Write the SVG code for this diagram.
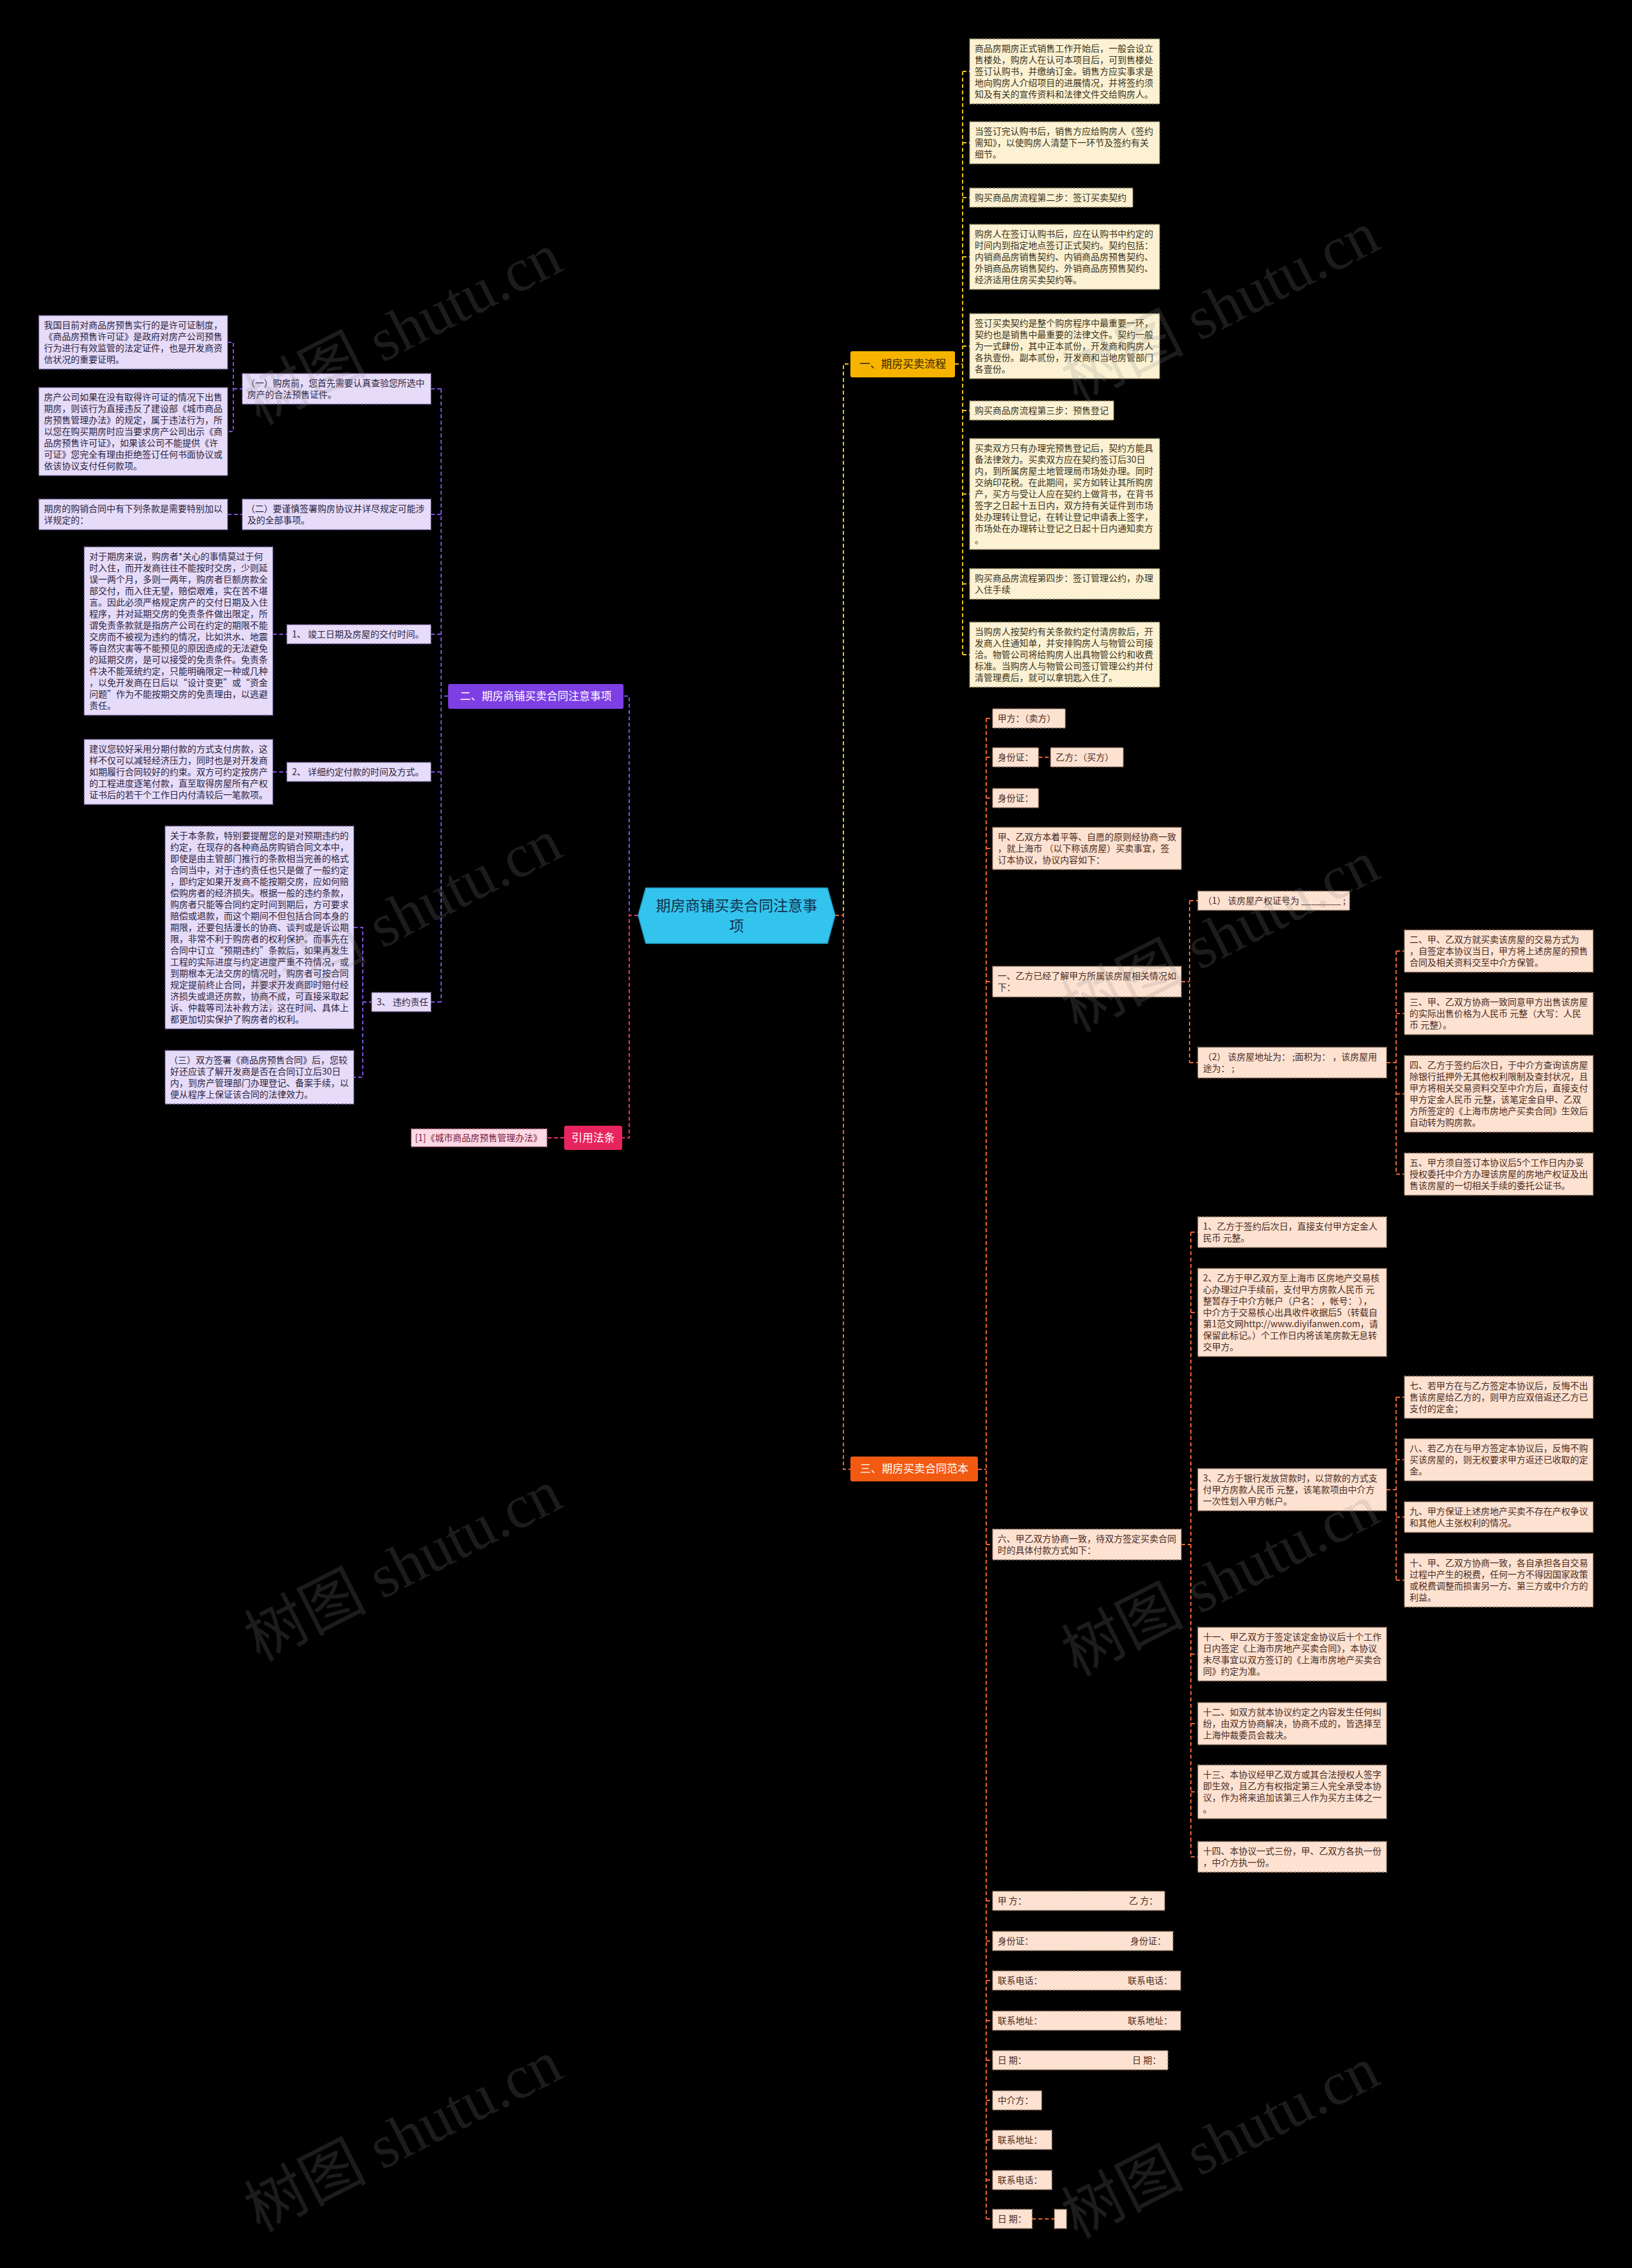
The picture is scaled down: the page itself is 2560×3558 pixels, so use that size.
<svg xmlns="http://www.w3.org/2000/svg" width="2560" height="3558" viewBox="0 0 2560 3558">
<style>
.c{fill:none;stroke-width:2;stroke-dasharray:6 4}
.cy{stroke:#f2c21b}.cp{stroke:#7c4fe0}.ck{stroke:#e8336e}.co{stroke:#ee6430}
.by{fill:#fcf2d3;stroke:#8f8563;stroke-width:1.3;stroke-dasharray:4 2}
.bp{fill:#e6dcf9;stroke:#76649e;stroke-width:1.3;stroke-dasharray:4 2}
.bo{fill:#fde2d2;stroke:#9c7d6a;stroke-width:1.3;stroke-dasharray:4 2}
.bk{fill:#fcd9e4;stroke:#a8647a;stroke-width:1.3;stroke-dasharray:4 2}
text{font-family:"Noto Sans CJK SC","Liberation Sans",sans-serif}
.t{font-size:14px}
.ty{fill:#3a3220}.tp{fill:#2c2440}.to{fill:#4a2c1e}.tk{fill:#7a1a3a}
.lab{font-size:17px;text-anchor:middle}
.wm{font-family:"Liberation Serif","Noto Sans CJK SC",serif;font-size:96px;fill:#8a8a8a;opacity:0.2}
</style>
<rect x="0" y="0" width="2560" height="3558" fill="#000"/>

<g id="connectors">
<path class="c cy" d="M1310,1436 H1323 V571 H1334 M1498,571 H1510 M1510,112 V1027 M1510,112 H1521 M1510,224 H1521 M1510,310 H1521 M1510,403 H1521 M1510,543 H1521 M1510,644 H1521 M1510,775 H1521 M1510,916 H1521 M1510,1027 H1521"/>
<path class="c cp" d="M1001,1436 H987 V1092 H978 M703,1092 H692 M692,610 V1572 M676,610 H692 M676,807 H692 M676,995 H692 M676,1211 H692 M676,1572 H692 M357,537 H366 V677 H357 M366,610 H380 M357,807 H380 M428,995 H450 M428,1211 H450 M555,1455 H569 V1690 H555 M569,1572 H583"/>
<path class="c ck" d="M1001,1436 H987 V1785 H976 M885,1785 H858"/>
<path class="c co" d="M1310,1436 H1323 V2305 H1334 M1534,2305 H1547 M1547,1127 V3481 M1547,1127 H1557 M1547,1188 H1557 M1547,1252 H1557 M1547,1331 H1557 M1547,1540 H1557 M1547,2423 H1557 M1547,2982 H1557 M1547,3045 H1557 M1547,3107 H1557 M1547,3170 H1557 M1547,3232 H1557 M1547,3295 H1557 M1547,3357 H1557 M1547,3420 H1557 M1547,3481 H1557 M1629,1188 H1648 M1853,1540 H1866 M1866,1413 V1667 M1866,1413 H1879 M1866,1667 H1879 M2175,1667 H2190 M2190,1492 V1842 M2190,1492 H2203 M2190,1590 H2203 M2190,1716 H2203 M2190,1842 H2203 M1853,2423 H1868 M1868,1933 V2913 M1868,1933 H1879 M1868,2059 H1879 M1868,2337 H1879 M1868,2595 H1879 M1868,2704 H1879 M1868,2811 H1879 M1868,2913 H1879 M2175,2337 H2190 M2190,2192 V2479 M2190,2192 H2203 M2190,2290 H2203 M2190,2380 H2203 M2190,2479 H2203 M1619,3481 H1654"/>
</g>

<g id="center">
<polygon points="1001,1436 1013,1393 1298,1393 1310,1436 1298,1480 1013,1480" fill="#33c4ee" stroke="#1a9cc4" stroke-width="1.5"/>
<text x="1155.5" y="1429" font-size="23" text-anchor="middle" fill="#14304a">期房商铺买卖合同注意事</text>
<text x="1155.5" y="1461" font-size="23" text-anchor="middle" fill="#14304a">项</text>
</g>

<g id="sec1"><rect x="1334" y="551" width="164" height="41" rx="3" fill="#f6b400"/><text class="lab" x="1416" y="577" fill="#3a2600">一、期房买卖流程</text></g>
<g id="sec2"><rect x="703" y="1073" width="275" height="39" rx="3" fill="#7d3ee4"/><text class="lab" x="840.5" y="1098" fill="#fff">二、期房商铺买卖合同注意事项</text></g>
<g id="sec-ref"><rect x="885" y="1766" width="91" height="38" rx="3" fill="#e8245e"/><text class="lab" x="930.5" y="1791" fill="#fff">引用法条</text></g>
<g id="sec3"><rect x="1334" y="2285" width="200" height="39" rx="3" fill="#f25a12"/><text class="lab" x="1434" y="2310" fill="#fff">三、期房买卖合同范本</text></g>

<g id="ref1"><rect class="bk" x="645" y="1771" width="213" height="28"/><text class="t tk" x="651" y="1790">[1]《城市商品房预售管理办法》</text></g>

<!-- Section 1 -->
<g id="a1"><rect class="by" x="1521" y="61" width="298" height="102"/><text class="t ty"><tspan x="1529" y="81">商品房期房正式销售工作开始后，一般会设立</tspan><tspan x="1529" y="99">售楼处，购房人在认可本项目后，可到售楼处</tspan><tspan x="1529" y="117">签订认购书，并缴纳订金。销售方应实事求是</tspan><tspan x="1529" y="135">地向购房人介绍项目的进展情况，并将签约须</tspan><tspan x="1529" y="153">知及有关的宣传资料和法律文件交给购房人。</tspan></text></g>
<g id="a2"><rect class="by" x="1521" y="191" width="298" height="66"/><text class="t ty"><tspan x="1529" y="211">当签订完认购书后，销售方应给购房人《签约</tspan><tspan x="1529" y="229">需知》，以使购房人清楚下一环节及签约有关</tspan><tspan x="1529" y="247">细节。</tspan></text></g>
<g id="a3"><rect class="by" x="1521" y="295" width="256" height="30"/><text class="t ty" x="1529" y="315">购买商品房流程第二步：签订买卖契约</text></g>
<g id="a4"><rect class="by" x="1521" y="352" width="298" height="102"/><text class="t ty"><tspan x="1529" y="372">购房人在签订认购书后，应在认购书中约定的</tspan><tspan x="1529" y="390">时间内到指定地点签订正式契约。契约包括：</tspan><tspan x="1529" y="408">内销商品房销售契约、内销商品房预售契约、</tspan><tspan x="1529" y="426">外销商品房销售契约、外销商品房预售契约、</tspan><tspan x="1529" y="444">经济适用住房买卖契约等。</tspan></text></g>
<g id="a5"><rect class="by" x="1521" y="492" width="298" height="102"/><text class="t ty"><tspan x="1529" y="512">签订买卖契约是整个购房程序中最重要一环，</tspan><tspan x="1529" y="530">契约也是销售中最重要的法律文件。契约一般</tspan><tspan x="1529" y="548">为一式肆份，其中正本贰份，开发商和购房人</tspan><tspan x="1529" y="566">各执壹份。副本贰份，开发商和当地房管部门</tspan><tspan x="1529" y="584">各壹份。</tspan></text></g>
<g id="b1"><rect class="by" x="1521" y="629" width="226" height="30"/><text class="t ty" x="1529" y="649">购买商品房流程第三步：预售登记</text></g>
<g id="b2"><rect class="by" x="1521" y="688" width="298" height="174"/><text class="t ty"><tspan x="1529" y="708">买卖双方只有办理完预售登记后，契约方能具</tspan><tspan x="1529" y="726">备法律效力。买卖双方应在契约签订后30日</tspan><tspan x="1529" y="744">内，到所属房屋土地管理局市场处办理。同时</tspan><tspan x="1529" y="762">交纳印花税。在此期间，买方如转让其所购房</tspan><tspan x="1529" y="780">产，买方与受让人应在契约上做背书，在背书</tspan><tspan x="1529" y="798">签字之日起十五日内，双方持有关证件到市场</tspan><tspan x="1529" y="816">处办理转让登记，在转让登记申请表上签字，</tspan><tspan x="1529" y="834">市场处在办理转让登记之日起十日内通知卖方</tspan><tspan x="1529" y="852">。</tspan></text></g>
<g id="b3"><rect class="by" x="1521" y="892" width="298" height="48"/><text class="t ty"><tspan x="1529" y="912">购买商品房流程第四步：签订管理公约，办理</tspan><tspan x="1529" y="930">入住手续</tspan></text></g>
<g id="b4"><rect class="by" x="1521" y="976" width="298" height="102"/><text class="t ty"><tspan x="1529" y="996">当购房人按契约有关条款约定付清房款后，开</tspan><tspan x="1529" y="1014">发商入住通知单，并安排购房人与物管公司接</tspan><tspan x="1529" y="1032">洽。物管公司将给购房人出具物管公约和收费</tspan><tspan x="1529" y="1050">标准。当购房人与物管公司签订管理公约并付</tspan><tspan x="1529" y="1068">清管理费后，就可以拿钥匙入住了。</tspan></text></g>

<!-- Section 2 -->
<g id="m1"><rect class="bp" x="380" y="586" width="296" height="48"/><text class="t tp"><tspan x="386" y="606">（一）购房前，您首先需要认真查验您所选中</tspan><tspan x="388" y="624">房产的合法预售证件。</tspan></text></g>
<g id="l1"><rect class="bp" x="61" y="495" width="296" height="84"/><text class="t tp"><tspan x="69" y="515">我国目前对商品房预售实行的是许可证制度，</tspan><tspan x="69" y="533">《商品房预售许可证》是政府对房产公司预售</tspan><tspan x="69" y="551">行为进行有效监管的法定证件，也是开发商资</tspan><tspan x="69" y="569">信状况的重要证明。</tspan></text></g>
<g id="l2"><rect class="bp" x="61" y="608" width="296" height="138"/><text class="t tp"><tspan x="69" y="628">房产公司如果在没有取得许可证的情况下出售</tspan><tspan x="69" y="646">期房，则该行为直接违反了建设部《城市商品</tspan><tspan x="69" y="664">房预售管理办法》的规定，属于违法行为，所</tspan><tspan x="69" y="682">以您在购买期房时应当要求房产公司出示《商</tspan><tspan x="69" y="700">品房预售许可证》，如果该公司不能提供《许</tspan><tspan x="69" y="718">可证》您完全有理由拒绝签订任何书面协议或</tspan><tspan x="69" y="736">依该协议支付任何款项。</tspan></text></g>
<g id="m2"><rect class="bp" x="380" y="783" width="296" height="48"/><text class="t tp"><tspan x="386" y="803">（二）要谨慎签署购房协议并详尽规定可能涉</tspan><tspan x="388" y="821">及的全部事项。</tspan></text></g>
<g id="l3"><rect class="bp" x="61" y="783" width="296" height="48"/><text class="t tp"><tspan x="69" y="803">期房的购销合同中有下列条款是需要特别加以</tspan><tspan x="69" y="821">详规定的：</tspan></text></g>
<g id="n1"><rect class="bp" x="450" y="980" width="226" height="30"/><text class="t tp" x="458" y="1000">1、 竣工日期及房屋的交付时间。</text></g>
<g id="l4"><rect class="bp" x="132" y="858" width="296" height="264"/><text class="t tp"><tspan x="140" y="878">对于期房来说，购房者*关心的事情莫过于何</tspan><tspan x="140" y="896">时入住，而开发商往往不能按时交房，少则延</tspan><tspan x="140" y="914">误一两个月，多则一两年，购房者巨额房款全</tspan><tspan x="140" y="932">部交付，而入住无望，赔偿艰难，实在苦不堪</tspan><tspan x="140" y="950">言。因此必须严格规定房产的交付日期及入住</tspan><tspan x="140" y="968">程序，并对延期交房的免责条件做出限定，所</tspan><tspan x="140" y="986">谓免责条款就是指房产公司在约定的期限不能</tspan><tspan x="140" y="1004">交房而不被视为违约的情况，比如洪水、地震</tspan><tspan x="140" y="1022">等自然灾害等不能预见的原因造成的无法避免</tspan><tspan x="140" y="1040">的延期交房，是可以接受的免责条件。免责条</tspan><tspan x="140" y="1058">件决不能笼统约定，只能明确限定一种或几种</tspan><tspan x="140" y="1076">，以免开发商在日后以“设计变更”或“资金</tspan><tspan x="140" y="1094">问题”作为不能按期交房的免责理由，以逃避</tspan><tspan x="140" y="1112">责任。</tspan></text></g>
<g id="n2"><rect class="bp" x="450" y="1196" width="226" height="30"/><text class="t tp" x="458" y="1216">2、 详细约定付款的时间及方式。</text></g>
<g id="l5"><rect class="bp" x="132" y="1160" width="296" height="102"/><text class="t tp"><tspan x="140" y="1180">建议您较好采用分期付款的方式支付房款，这</tspan><tspan x="140" y="1198">样不仅可以减轻经济压力，同时也是对开发商</tspan><tspan x="140" y="1216">如期履行合同较好的约束。双方可约定按房产</tspan><tspan x="140" y="1234">的工程进度逐笔付款，直至取得房屋所有产权</tspan><tspan x="140" y="1252">证书后的若干个工作日内付清较后一笔款项。</tspan></text></g>
<g id="n3"><rect class="bp" x="583" y="1557" width="93" height="30"/><text class="t tp" x="591" y="1577">3、 违约责任</text></g>
<g id="l6"><rect class="bp" x="259" y="1296" width="296" height="318"/><text class="t tp"><tspan x="267" y="1316">关于本条款，特别要提醒您的是对预期违约的</tspan><tspan x="267" y="1334">约定，在现存的各种商品房购销合同文本中，</tspan><tspan x="267" y="1352">即使是由主管部门推行的条款相当完善的格式</tspan><tspan x="267" y="1370">合同当中，对于违约责任也只是做了一般约定</tspan><tspan x="267" y="1388">，即约定如果开发商不能按期交房，应如何赔</tspan><tspan x="267" y="1406">偿购房者的经济损失。根据一般的违约条款，</tspan><tspan x="267" y="1424">购房者只能等合同约定时间到期后，方可要求</tspan><tspan x="267" y="1442">赔偿或退款，而这个期间不但包括合同本身的</tspan><tspan x="267" y="1460">期限，还要包括漫长的协商、谈判或是诉讼期</tspan><tspan x="267" y="1478">限，非常不利于购房者的权利保护。而事先在</tspan><tspan x="267" y="1496">合同中订立“预期违约”条款后，如果再发生</tspan><tspan x="267" y="1514">工程的实际进度与约定进度严重不符情况，或</tspan><tspan x="267" y="1532">到期根本无法交房的情况时，购房者可按合同</tspan><tspan x="267" y="1550">规定提前终止合同，并要求开发商即时赔付经</tspan><tspan x="267" y="1568">济损失或退还房款，协商不成，可直接采取起</tspan><tspan x="267" y="1586">诉、仲裁等司法补救方法，这在时间、具体上</tspan><tspan x="267" y="1604">都更加切实保护了购房者的权利。</tspan></text></g>
<g id="l7"><rect class="bp" x="259" y="1648" width="296" height="84"/><text class="t tp"><tspan x="265" y="1668">（三）双方签署《商品房预售合同》后，您较</tspan><tspan x="267" y="1686">好还应该了解开发商是否在合同订立后30日</tspan><tspan x="267" y="1704">内，到房产管理部门办理登记、备案手续，以</tspan><tspan x="267" y="1722">便从程序上保证该合同的法律效力。</tspan></text></g>

<!-- Section 3 -->
<g id="o1"><rect class="bo" x="1557" y="1112" width="114" height="30"/><text class="t to" x="1565" y="1132">甲方：（卖方）</text></g>
<g id="o2"><rect class="bo" x="1557" y="1173" width="72" height="30"/><text class="t to" x="1565" y="1193">身份证：</text></g>
<g id="o2b"><rect class="bo" x="1648" y="1173" width="114" height="30"/><text class="t to" x="1656" y="1193">乙方：（买方）</text></g>
<g id="o3"><rect class="bo" x="1557" y="1237" width="72" height="30"/><text class="t to" x="1565" y="1257">身份证：</text></g>
<g id="o4"><rect class="bo" x="1557" y="1298" width="296" height="66"/><text class="t to"><tspan x="1565" y="1318">甲、乙双方本着平等、自愿的原则经协商一致</tspan><tspan x="1565" y="1336">，就上海市 （以下称该房屋）买卖事宜，签</tspan><tspan x="1565" y="1354">订本协议，协议内容如下：</tspan></text></g>
<g id="o5"><rect class="bo" x="1557" y="1516" width="296" height="48"/><text class="t to"><tspan x="1565" y="1536">一、乙方已经了解甲方所属该房屋相关情况如</tspan><tspan x="1565" y="1554">下：</tspan></text></g>
<g id="o5a"><rect class="bo" x="1879" y="1398" width="238" height="30"/><text class="t to" x="1887" y="1418">（1） 该房屋产权证号为 ________ ;</text></g>
<g id="o5b"><rect class="bo" x="1879" y="1643" width="296" height="48"/><text class="t to"><tspan x="1887" y="1663">（2） 该房屋地址为： ;面积为： ，该房屋用</tspan><tspan x="1887" y="1681">途为： ;</tspan></text></g>
<g id="o-2"><rect class="bo" x="2203" y="1459" width="296" height="66"/><text class="t to"><tspan x="2211" y="1479">二、甲、乙双方就买卖该房屋的交易方式为</tspan><tspan x="2211" y="1497">，自签定本协议当日，甲方将上述房屋的预售</tspan><tspan x="2211" y="1515">合同及相关资料交至中介方保管。</tspan></text></g>
<g id="o-3"><rect class="bo" x="2203" y="1557" width="296" height="66"/><text class="t to"><tspan x="2211" y="1577">三、甲、乙双方协商一致同意甲方出售该房屋</tspan><tspan x="2211" y="1595">的实际出售价格为人民币 元整（大写：人民</tspan><tspan x="2211" y="1613">币 元整）。</tspan></text></g>
<g id="o-4"><rect class="bo" x="2203" y="1656" width="296" height="120"/><text class="t to"><tspan x="2211" y="1676">四、乙方于签约后次日，于中介方查询该房屋</tspan><tspan x="2211" y="1694">除银行抵押外无其他权利限制及查封状况，且</tspan><tspan x="2211" y="1712">甲方将相关交易资料交至中介方后，直接支付</tspan><tspan x="2211" y="1730">甲方定金人民币 元整，该笔定金自甲、乙双</tspan><tspan x="2211" y="1748">方所签定的《上海市房地产买卖合同》生效后</tspan><tspan x="2211" y="1766">自动转为购房款。</tspan></text></g>
<g id="o-5"><rect class="bo" x="2203" y="1809" width="296" height="66"/><text class="t to"><tspan x="2211" y="1829">五、甲方须自签订本协议后5个工作日内办妥</tspan><tspan x="2211" y="1847">授权委托中介方办理该房屋的房地产权证及出</tspan><tspan x="2211" y="1865">售该房屋的一切相关手续的委托公证书。</tspan></text></g>
<g id="o6"><rect class="bo" x="1557" y="2399" width="296" height="48"/><text class="t to"><tspan x="1565" y="2419">六、甲乙双方协商一致，待双方签定买卖合同</tspan><tspan x="1565" y="2437">时的具体付款方式如下：</tspan></text></g>
<g id="p1"><rect class="bo" x="1879" y="1909" width="296" height="48"/><text class="t to"><tspan x="1887" y="1929">1、乙方于签约后次日，直接支付甲方定金人</tspan><tspan x="1887" y="1947">民币 元整。</tspan></text></g>
<g id="p2"><rect class="bo" x="1879" y="1990" width="296" height="138"/><text class="t to"><tspan x="1887" y="2010">2、乙方于甲乙双方至上海市 区房地产交易核</tspan><tspan x="1887" y="2028">心办理过户手续前，支付甲方房款人民币 元</tspan><tspan x="1887" y="2046">整暂存于中介方帐户（户名： ，帐号： ），</tspan><tspan x="1887" y="2064">中介方于交易核心出具收件收据后5（转载自</tspan><tspan x="1887" y="2082">第1范文网http://www.diyifanwen.com，请</tspan><tspan x="1887" y="2100">保留此标记。）个工作日内将该笔房款无息转</tspan><tspan x="1887" y="2118">交甲方。</tspan></text></g>
<g id="p3"><rect class="bo" x="1879" y="2304" width="296" height="66"/><text class="t to"><tspan x="1887" y="2324">3、乙方于银行发放贷款时，以贷款的方式支</tspan><tspan x="1887" y="2342">付甲方房款人民币 元整，该笔款项由中介方</tspan><tspan x="1887" y="2360">一次性划入甲方帐户。</tspan></text></g>
<g id="q7"><rect class="bo" x="2203" y="2159" width="296" height="66"/><text class="t to"><tspan x="2211" y="2179">七、若甲方在与乙方签定本协议后，反悔不出</tspan><tspan x="2211" y="2197">售该房屋给乙方的，则甲方应双倍返还乙方已</tspan><tspan x="2211" y="2215">支付的定金；</tspan></text></g>
<g id="q8"><rect class="bo" x="2203" y="2257" width="296" height="66"/><text class="t to"><tspan x="2211" y="2277">八、若乙方在与甲方签定本协议后，反悔不购</tspan><tspan x="2211" y="2295">买该房屋的，则无权要求甲方返还已收取的定</tspan><tspan x="2211" y="2313">金。</tspan></text></g>
<g id="q9"><rect class="bo" x="2203" y="2356" width="296" height="48"/><text class="t to"><tspan x="2211" y="2376">九、甲方保证上述房地产买卖不存在产权争议</tspan><tspan x="2211" y="2394">和其他人主张权利的情况。</tspan></text></g>
<g id="q10"><rect class="bo" x="2203" y="2437" width="296" height="84"/><text class="t to"><tspan x="2211" y="2457">十、甲、乙双方协商一致，各自承担各自交易</tspan><tspan x="2211" y="2475">过程中产生的税费，任何一方不得因国家政策</tspan><tspan x="2211" y="2493">或税费调整而损害另一方、第三方或中介方的</tspan><tspan x="2211" y="2511">利益。</tspan></text></g>
<g id="p11"><rect class="bo" x="1879" y="2553" width="296" height="84"/><text class="t to"><tspan x="1887" y="2573">十一、甲乙双方于签定该定金协议后十个工作</tspan><tspan x="1887" y="2591">日内签定《上海市房地产买卖合同》，本协议</tspan><tspan x="1887" y="2609">未尽事宜以双方签订的《上海市房地产买卖合</tspan><tspan x="1887" y="2627">同》约定为准。</tspan></text></g>
<g id="p12"><rect class="bo" x="1879" y="2671" width="296" height="66"/><text class="t to"><tspan x="1887" y="2691">十二、如双方就本协议约定之内容发生任何纠</tspan><tspan x="1887" y="2709">纷，由双方协商解决，协商不成的，皆选择至</tspan><tspan x="1887" y="2727">上海仲裁委员会裁决。</tspan></text></g>
<g id="p13"><rect class="bo" x="1879" y="2769" width="296" height="84"/><text class="t to"><tspan x="1887" y="2789">十三、本协议经甲乙双方或其合法授权人签字</tspan><tspan x="1887" y="2807">即生效，且乙方有权指定第三人完全承受本协</tspan><tspan x="1887" y="2825">议，作为将来追加该第三人作为买方主体之一</tspan><tspan x="1887" y="2843">。</tspan></text></g>
<g id="p14"><rect class="bo" x="1879" y="2889" width="296" height="48"/><text class="t to"><tspan x="1887" y="2909">十四、本协议一式三份，甲、乙双方各执一份</tspan><tspan x="1887" y="2927">，中介方执一份。</tspan></text></g>
<g id="r1"><rect class="bo" x="1557" y="2967" width="270" height="30"/><text class="t to"><tspan x="1565" y="2987">甲 方：</tspan><tspan x="1771" y="2987">乙 方：</tspan></text></g>
<g id="r2"><rect class="bo" x="1557" y="3030" width="283" height="30"/><text class="t to"><tspan x="1565" y="3050">身份证：</tspan><tspan x="1773" y="3050">身份证：</tspan></text></g>
<g id="r3"><rect class="bo" x="1557" y="3092" width="295" height="30"/><text class="t to"><tspan x="1565" y="3112">联系电话：</tspan><tspan x="1769" y="3112">联系电话：</tspan></text></g>
<g id="r4"><rect class="bo" x="1557" y="3155" width="295" height="30"/><text class="t to"><tspan x="1565" y="3175">联系地址：</tspan><tspan x="1769" y="3175">联系地址：</tspan></text></g>
<g id="r5"><rect class="bo" x="1557" y="3217" width="275" height="30"/><text class="t to"><tspan x="1565" y="3237">日 期：</tspan><tspan x="1776" y="3237">日 期：</tspan></text></g>
<g id="r6"><rect class="bo" x="1557" y="3280" width="77" height="30"/><text class="t to" x="1565" y="3300">中介方：</text></g>
<g id="r7"><rect class="bo" x="1557" y="3342" width="93" height="30"/><text class="t to" x="1565" y="3362">联系地址：</text></g>
<g id="r8"><rect class="bo" x="1557" y="3405" width="93" height="30"/><text class="t to" x="1565" y="3425">联系电话：</text></g>
<g id="r9"><rect class="bo" x="1557" y="3466" width="62" height="30"/><text class="t to" x="1565" y="3486">日 期：</text></g>
<g id="r9b"><rect class="bo" x="1654" y="3466" width="19" height="30"/></g>

<g id="watermarks">
<text class="wm" x="647" y="545" text-anchor="middle" transform="rotate(-27 647 545)">树图 shutu.cn</text>
<text class="wm" x="1929" y="511" text-anchor="middle" transform="rotate(-27 1929 511)">树图 shutu.cn</text>
<text class="wm" x="647" y="1464" text-anchor="middle" transform="rotate(-27 647 1464)">树图 shutu.cn</text>
<text class="wm" x="1929" y="1498" text-anchor="middle" transform="rotate(-27 1929 1498)">树图 shutu.cn</text>
<text class="wm" x="647" y="2485" text-anchor="middle" transform="rotate(-27 647 2485)">树图 shutu.cn</text>
<text class="wm" x="1929" y="2508" text-anchor="middle" transform="rotate(-27 1929 2508)">树图 shutu.cn</text>
<text class="wm" x="647" y="3380" text-anchor="middle" transform="rotate(-27 647 3380)">树图 shutu.cn</text>
<text class="wm" x="1929" y="3390" text-anchor="middle" transform="rotate(-27 1929 3390)">树图 shutu.cn</text>
</g>
</svg>
